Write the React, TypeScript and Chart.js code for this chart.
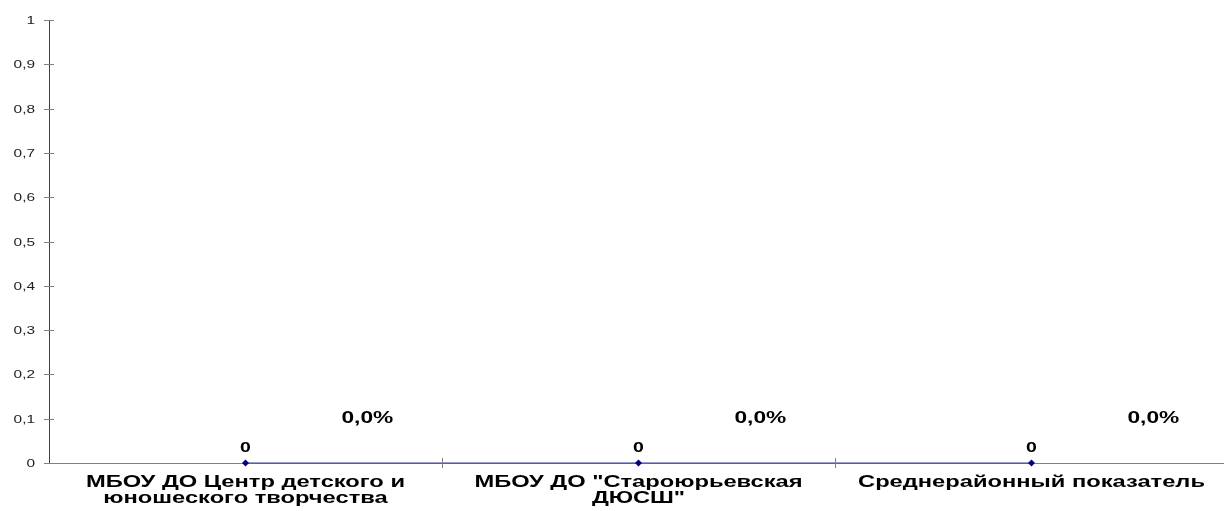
import React, { useEffect, useRef } from "react";
import { Chart, registerables } from "chart.js";

Chart.register(...registerables);

const categories: string[][] = [
  ["МБОУ ДО Центр детского и", "юношеского творчества"],
  ["МБОУ ДО \"Староюрьевская", "ДЮСШ\""],
  ["Среднерайонный показатель"],
];
const values: number[] = [0, 0, 0];
const valueLabels: string[] = ["0", "0", "0"];
const percentLabels: string[] = ["0,0%", "0,0%", "0,0%"];
const yTicks: number[] = [0, 0.1, 0.2, 0.3, 0.4, 0.5, 0.6, 0.7, 0.8, 0.9, 1];

const FONT = "'Liberation Sans', Arial, sans-serif";

function stretchedText(ctx: any, text: string, x: number, y: number, align: string, sx: number) {
  ctx.save();
  ctx.translate(x, y);
  ctx.scale(sx, 1);
  ctx.textAlign = align;
  ctx.textBaseline = "middle";
  ctx.fillText(text, 0, 0);
  ctx.restore();
}

const decorPlugin = {
  id: "decor",
  afterDatasetsDraw(chart: any) {
    const ctx = chart.ctx;
    const x = chart.scales.x;
    const y = chart.scales.y;
    const area = chart.chartArea;
    ctx.save();
    // y tick marks crossing the axis + labels
    ctx.strokeStyle = "#808080";
    ctx.lineWidth = 1;
    ctx.fillStyle = "#222222";
    ctx.font = `11px ${FONT}`;
    yTicks.forEach((v) => {
      const py = Math.round(y.getPixelForValue(v)) + 0.5;
      ctx.beginPath();
      ctx.moveTo(area.left - 5, py);
      ctx.lineTo(area.left + 5, py);
      ctx.stroke();
      stretchedText(ctx, String(v).replace(".", ","), area.left - 14, py, "right", 1.4);
    });
    // x boundary tick marks
    const w = (area.right - area.left) / categories.length;
    for (let i = 1; i <= categories.length; i++) {
      const px = Math.round(area.left + i * w) + 0.5;
      ctx.beginPath();
      ctx.moveTo(px, area.bottom - 5);
      ctx.lineTo(px, area.bottom + 5);
      ctx.stroke();
    }
    // x category labels
    ctx.fillStyle = "#000000";
    ctx.font = `bold 16px ${FONT}`;
    categories.forEach((lines, i) => {
      const cx = x.getPixelForValue(i);
      lines.forEach((line, j) => {
        stretchedText(ctx, line, cx, area.bottom + 20 + j * 16, "center", 1.48);
      });
    });
    // value labels
    const meta = chart.getDatasetMeta(0);
    meta.data.forEach((pt: any, i: number) => {
      ctx.font = `bold 15px ${FONT}`;
      stretchedText(ctx, valueLabels[i], pt.x, pt.y - 15, "center", 1.3);
      ctx.font = `bold 16px ${FONT}`;
      stretchedText(ctx, percentLabels[i], pt.x + w * 0.31, pt.y - 44, "center", 1.42);
    });
    ctx.restore();
  },
};

export default function App() {
  const ref = useRef<HTMLCanvasElement | null>(null);
  useEffect(() => {
    document.body.style.margin = "0";
    document.body.style.overflow = "hidden";
    const chart = new Chart(ref.current as HTMLCanvasElement, {
      type: "line",
      data: {
        labels: categories,
        datasets: [
          {
            data: values,
            borderColor: "#3a3aa0",
            borderWidth: 1.2,
            pointStyle: "rectRot",
            pointRadius: 3.5,
            pointBackgroundColor: "#000080",
            pointBorderColor: "#000080",
            pointBorderWidth: 0,
            clip: false as any,
          },
        ],
      },
      options: {
        responsive: false,
        animation: false,
        layout: { padding: { top: 20, right: 3, left: 0, bottom: 0 } },
        plugins: { legend: { display: false }, tooltip: { enabled: false } },
        scales: {
          x: {
            type: "category",
            offset: true,
            grid: { display: false, drawTicks: false, offset: true },
            border: { display: true, color: "#808080", width: 1 },
            ticks: { display: false },
            afterFit(scale: any) {
              scale.height = 48;
            },
          },
          y: {
            min: 0,
            max: 1,
            afterBuildTicks(scale: any) {
              scale.ticks = yTicks.map((v) => ({ value: v }));
            },
            grid: { display: false, drawTicks: false },
            border: { display: true, color: "#404040", width: 1 },
            ticks: { display: false },
            afterFit(scale: any) {
              scale.width = 49;
            },
          },
        },
      },
      plugins: [decorPlugin],
    });
    return () => chart.destroy();
  }, []);
  return (
    <div style={{ width: 1224, height: 511, overflow: "hidden", background: "#fff" }}>
      <canvas ref={ref} width={1232} height={511} style={{ display: "block" }} />
    </div>
  );
}
